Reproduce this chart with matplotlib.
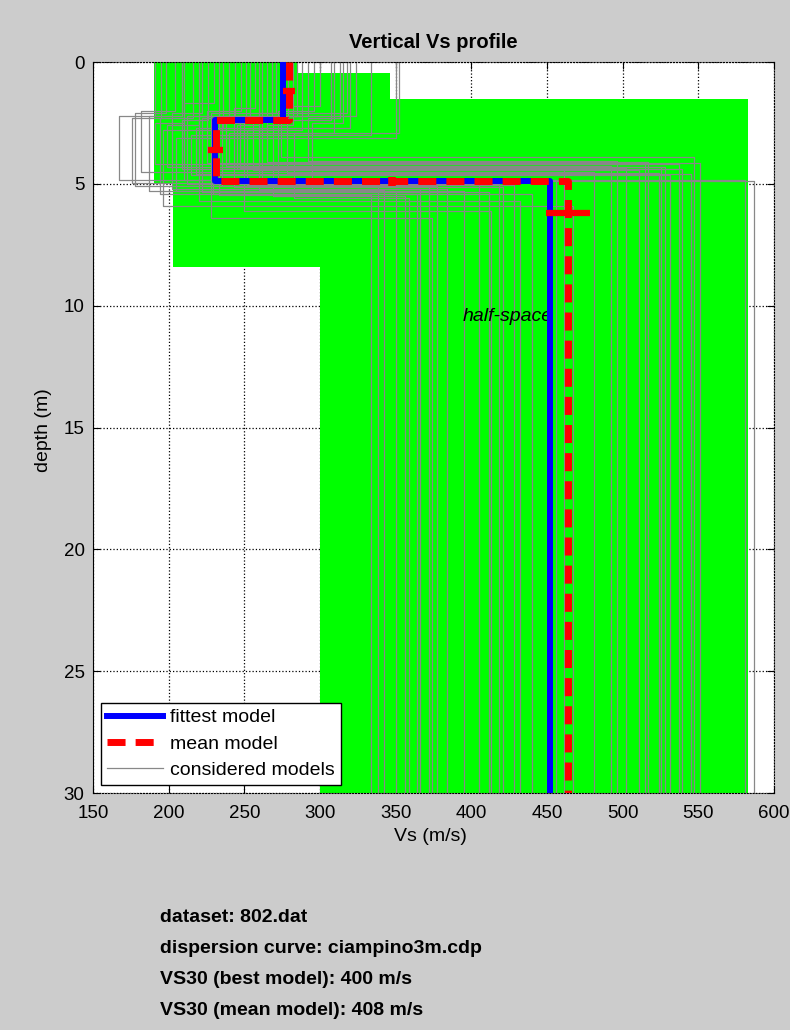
import matplotlib
matplotlib.use('Agg')
import matplotlib.pyplot as plt

plt.rcParams['font.family'] = ['Liberation Sans', 'DejaVu Sans']

# considered models: layer 1, layer 2, half-space
vs1 = [191, 195, 198, 204, 209, 210, 216, 220, 222, 226, 233, 236, 244, 248, 251, 254, 257, 262, 265, 268, 271,
       282, 292, 300, 307, 309, 313, 315, 318, 320, 324, 334, 350, 352, 275, 279, 285, 260, 240, 230, 288, 296]
d1 = [2.2, 2.3, 2.1, 2.0, 2.2, 2.5, 2.3, 2.6, 2.1, 2.4, 2.2, 2.7, 2.3, 2.0, 2.5, 2.2, 1.9, 2.4, 2.8, 2.3, 2.1,
      2.6, 2.2, 1.8, 2.4, 2.9, 2.3, 2.5, 2.1, 2.7, 2.2, 3.0, 3.1, 2.9, 2.4, 2.3, 2.2, 2.6, 2.5, 1.7, 2.8, 2.0]
vs2 = [167, 176, 178, 182, 187, 191, 194, 199, 202, 209, 212, 218, 222, 225, 233, 238, 243, 247, 252, 256, 260,
       265, 269, 274, 278, 283, 292, 295, 228, 231, 235, 215, 205, 240, 250, 262, 220, 245, 229, 210, 196, 272]
d2 = [4.84, 4.97, 5.10, 4.50, 5.30, 4.20, 5.40, 4.30, 5.20, 4.40, 5.00, 4.60, 5.35, 4.15, 5.45, 4.25, 5.15, 4.35,
      5.05, 4.45, 5.25, 4.10, 5.50, 3.90, 4.55, 5.60, 4.05, 5.20, 6.40, 4.30, 5.10, 4.65, 5.30, 4.20, 6.10, 5.00,
      5.70, 4.40, 5.40, 4.86, 5.90, 4.88]
vs3 = [456, 338, 372, 481, 350, 515, 364, 528, 384, 539, 405, 545, 412, 551, 334, 492, 421, 502, 428, 511, 342,
       517, 356, 547, 524, 359, 496, 366, 374, 525, 377, 531, 395, 537, 413, 418, 432, 461, 440, 581, 467, 587]

# fittest and mean model
best_vs = [275.6, 230.6, 452]
best_d = [2.38, 4.88]
mean_vs = [279.5, 231, 464]
mean_d = [2.4, 4.9]
vs_std = [4, 5, 14.5]
vs_std_depth = [1.2, 3.6, 6.2]
d_std = [0.13, 0.17]

# search space (green)
space_top = [0, 0.45, 1.5, 5.0, 8.4]
space_bot = [0.45, 1.5, 5.0, 8.4, 30]
space_vmin = [190, 190, 190, 203, 300]
space_vmax = [285, 346, 583, 583, 583]

max_depth = 30

fig = plt.figure(figsize=(7.9, 10.3), dpi=100, facecolor='#cccccc')
ax = fig.add_axes([93 / 790, 1 - 793 / 1030, 681 / 790, 731 / 1030])

for t, b, lo, hi in zip(space_top, space_bot, space_vmin, space_vmax):
    ax.fill_betweenx([t, b], lo, hi, color='#00ff00', lw=0, zorder=1)


def steps(vs, d):
    x = [vs[0], vs[0], vs[1], vs[1], vs[2], vs[2]]
    y = [0, d[0], d[0], d[1], d[1], max_depth]
    return x, y


for i in range(len(vs1)):
    x, y = steps([vs1[i], vs2[i], vs3[i]], [d1[i], d2[i]])
    ax.plot(x, y, color='#888888', lw=0.9, zorder=2,
            label='considered models' if i == 0 else None)

ax.text(394, 10.45, 'half-space', fontsize=14, style='italic', va='center', zorder=2.5)

x, y = steps(best_vs, best_d)
ax.plot(x, y, color='blue', lw=4.3, zorder=3, label='fittest model')
x, y = steps(mean_vs, mean_d)
ax.plot(x, y, color='red', lw=5, dashes=(2.6, 1.45), zorder=4, label='mean model')

# std bars of the mean model
for v, s, dep in zip(mean_vs, vs_std, vs_std_depth):
    ax.plot([v - s, v + s], [dep, dep], color='red', lw=4.5, solid_capstyle='butt', zorder=4)
for k in range(2):
    vmid = (mean_vs[k] + mean_vs[k + 1]) / 2
    ax.plot([vmid, vmid], [mean_d[k] - d_std[k], mean_d[k] + d_std[k]], color='red', lw=5.5,
            solid_capstyle='butt', zorder=4)

ax.set_xlim(150, 600)
ax.set_ylim(30, 0)
ax.set_xticks(range(150, 601, 50))
ax.set_yticks(range(0, 31, 5))
ax.tick_params(direction='in', top=True, right=True, length=5, labelsize=13.5)
ax.tick_params(axis='x', pad=9)
ax.tick_params(axis='y', pad=6)
ax.set_axisbelow(True)
ax.grid(True, linestyle=':', color='black', lw=0.9)
for side in ['top', 'right', 'bottom']:
    ax.spines[side].set_linestyle(':')

h, l = ax.get_legend_handles_labels()
order = [l.index('fittest model'), l.index('mean model'), l.index('considered models')]
leg = ax.legend([h[o] for o in order], [l[o] for o in order], loc='lower left',
                bbox_to_anchor=(0.0117, 0.011), borderaxespad=0, fancybox=False, edgecolor='black',
                framealpha=1, fontsize=14, handlelength=2.9, handletextpad=0.35, labelspacing=0.45,
                borderpad=0.3)
leg.get_frame().set_linewidth(1)

fig.text(433.5 / 790, 1 - 42 / 1030, 'Vertical Vs profile', fontsize=14.5, fontweight='bold',
         ha='center', va='center')
fig.text(430 / 790, 1 - 828 / 1030, 'Vs (m/s)', fontsize=14, ha='center', va='top')
fig.text(44 / 790, 1 - 430 / 1030, 'depth (m)', fontsize=14, rotation=90, ha='center', va='center')

lines = ['dataset: 802.dat', 'dispersion curve: ciampino3m.cdp',
         'VS30 (best model): 400 m/s', 'VS30 (mean model): 408 m/s']
for k, s in enumerate(lines):
    fig.text(160 / 790, 1 - (922 + 31 * k) / 1030, s, fontsize=14, fontweight='bold', va='baseline')

fig.savefig('out.png', dpi=100, facecolor=fig.get_facecolor())
